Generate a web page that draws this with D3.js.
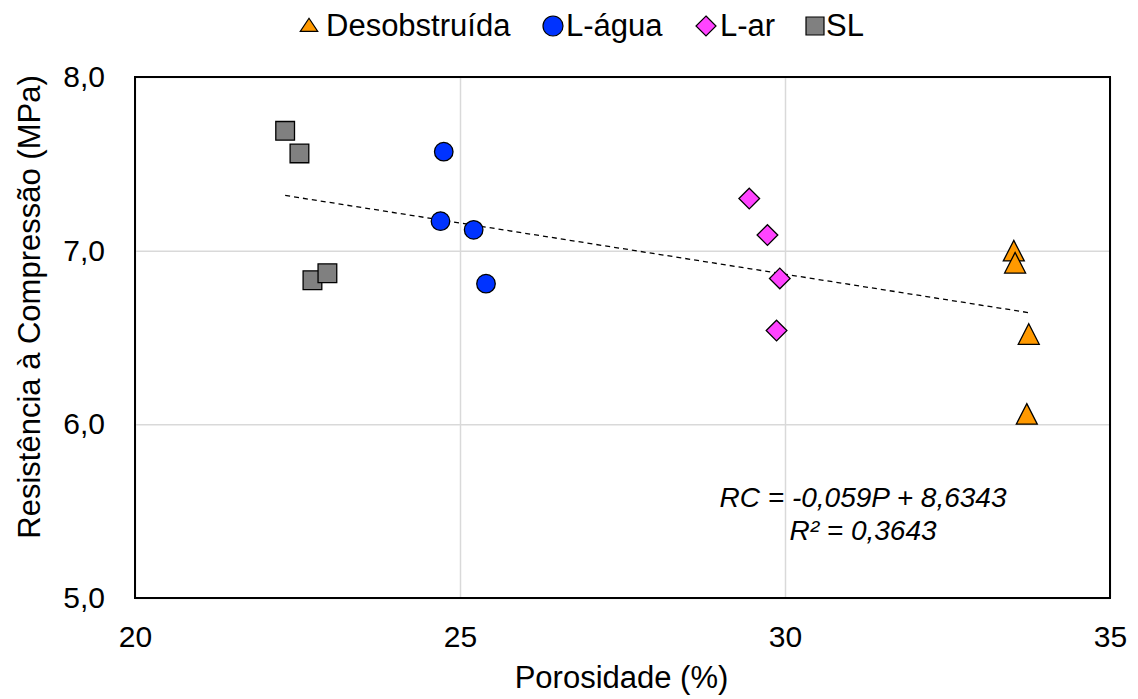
<!DOCTYPE html>
<html>
<head>
<meta charset="utf-8">
<script src="https://cdn.jsdelivr.net/npm/d3@7"></script>
<style>
  body { margin: 0; background: #fff; }
  text { font-family: "Liberation Sans", Arial, sans-serif; }
</style>
</head>
<body>
<div id="chart"></div>
<script>
// series values (porosidade %, resistencia MPa)
var desobstruidaX = [33.52, 33.54, 33.75, 33.72];
var desobstruidaY = [7.00, 6.93, 6.52, 6.06];
var laguaX = [24.75, 24.70, 25.21, 25.40];
var laguaY = [7.57, 7.17, 7.12, 6.81];
var larX = [29.45, 29.73, 29.92, 29.87];
var larY = [7.30, 7.09, 6.84, 6.54];
var slX = [22.31, 22.53, 22.73, 22.96];
var slY = [7.69, 7.56, 6.83, 6.87];

var seriesNames = ["Desobstruída", "L-água", "L-ar", "SL"];
var xTicks = [20, 25, 30, 35];
var yTicks = [5, 6, 7, 8];
var trendSlope = -0.059, trendIntercept = 8.6343;
var equationLines = ["RC = -0,059P + 8,6343", "R² = 0,3643"];

//margin convention
var width = 1138, height = 699,
    margin = {top: 77, right: 28, bottom: 101, left: 135},
    plotW = width - margin.left - margin.right,
    plotH = height - margin.top - margin.bottom;

var svg = d3.select('#chart').append('svg')
    .attr('width', width)
    .attr('height', height);

var plot = svg.append('g')
    .attr('transform', 'translate(' + margin.left + ',' + margin.top + ')');

var xScale = d3.scaleLinear().domain([20, 35]).range([0, plotW]);
var yScale = d3.scaleLinear().domain([5, 8]).range([plotH, 0]);

var fmt = function(d) { return d3.format('.1f')(d).replace('.', ','); };

//gridlines
plot.append('g')
    .call(d3.axisBottom(xScale).tickValues(xTicks).tickSize(plotH).tickFormat(''))
    .call(function(g) { g.select('.domain').remove(); })
    .selectAll('line').attr('stroke', '#d9d9d9').attr('stroke-width', 1.5);
plot.append('g')
    .call(d3.axisLeft(yScale).tickValues(yTicks).tickSize(-plotW).tickFormat(''))
    .call(function(g) { g.select('.domain').remove(); })
    .selectAll('line').attr('stroke', '#d9d9d9').attr('stroke-width', 1.5);

//axis labels
var xAxis = plot.append('g')
    .attr('transform', 'translate(0,' + plotH + ')')
    .call(d3.axisBottom(xScale).tickValues(xTicks).tickSize(0).tickPadding(28).tickFormat(d3.format('d')));
xAxis.select('.domain').remove();
xAxis.selectAll('text').attr('font-size', 30).attr('fill', '#000')
    .style('font-family', '"Liberation Sans", Arial, sans-serif');

var yAxis = plot.append('g')
    .call(d3.axisLeft(yScale).tickValues(yTicks).tickSize(0).tickPadding(30).tickFormat(fmt));
yAxis.select('.domain').remove();
yAxis.selectAll('text').attr('font-size', 30).attr('fill', '#000')
    .style('font-family', '"Liberation Sans", Arial, sans-serif');

//plot border
plot.append('rect')
    .attr('width', plotW).attr('height', plotH)
    .attr('fill', 'none').attr('stroke', '#000').attr('stroke-width', 2);

//trendline over all points
var allX = desobstruidaX.concat(laguaX, larX, slX);
var tx = d3.extent(allX);
plot.append('line')
    .attr('x1', xScale(tx[0])).attr('y1', yScale(trendSlope * tx[0] + trendIntercept))
    .attr('x2', xScale(tx[1])).attr('y2', yScale(trendSlope * tx[1] + trendIntercept))
    .attr('stroke', '#000').attr('stroke-width', 1.3).attr('stroke-dasharray', '5,4');

//markers
var series = [
  {name: seriesNames[0], xs: desobstruidaX, ys: desobstruidaY, sym: d3.symbolTriangle, size: 191, color: '#ff9900', extra: ' translate(0,3.4) scale(1,1.13)'},
  {name: seriesNames[1], xs: laguaX, ys: laguaY, sym: d3.symbolCircle, size: 270, color: '#0033ff', extra: ''},
  {name: seriesNames[2], xs: larX, ys: larY, sym: d3.symbolSquare, size: 214, color: '#ff44ff', extra: ' rotate(45)'},
  {name: seriesNames[3], xs: slX, ys: slY, sym: d3.symbolSquare, size: 350, color: '#808080', extra: ''}
];

series.forEach(function(s) {
  var pts = s.xs.map(function(x, i) { return {x: x, y: s.ys[i]}; });
  plot.selectAll(null).data(pts)
    .enter().append('path')
      .attr('d', d3.symbol().type(s.sym).size(s.size))
      .attr('transform', function(d) {
        return 'translate(' + xScale(d.x) + ',' + yScale(d.y) + ')' + s.extra;
      })
      .attr('fill', s.color)
      .attr('stroke', '#000')
      .attr('stroke-width', 1.3)
      .attr('vector-effect', 'non-scaling-stroke');
});

//equation
var eqX = 728;
var eq = plot.append('text')
    .attr('x', eqX).attr('y', 430)
    .attr('text-anchor', 'middle')
    .attr('font-size', 28).attr('font-style', 'italic');
eq.append('tspan').attr('x', eqX).attr('dy', 0).text(equationLines[0]);
eq.append('tspan').attr('x', eqX).attr('dy', 33).text(equationLines[1]);

//axis titles
svg.append('text')
    .attr('x', margin.left + plotW / 2 - 1).attr('y', 688)
    .attr('text-anchor', 'middle').attr('font-size', 31)
    .text('Porosidade (%)');
svg.append('text')
    .attr('transform', 'translate(40,307) rotate(-90)')
    .attr('text-anchor', 'middle').attr('font-size', 31)
    .text('Resistência à Compressão (MPa)');

//legend
var legendMarkX = [309, 553, 706, 815];
var legendTextX = [326, 566, 720, 826];
var legendSizes = [100, 314, 200, 324];
var legendExtra = [' translate(0,1) scale(1.15,1)', '', ' rotate(45)', ''];
series.forEach(function(s, i) {
  svg.append('path')
    .attr('d', d3.symbol().type(s.sym).size(legendSizes[i]))
    .attr('transform', 'translate(' + legendMarkX[i] + ',26)' + legendExtra[i])
    .attr('fill', s.color).attr('stroke', '#000').attr('stroke-width', 1.2)
    .attr('vector-effect', 'non-scaling-stroke');
  svg.append('text')
    .attr('x', legendTextX[i]).attr('y', 36)
    .attr('font-size', 31)
    .text(s.name);
});
</script>
</body>
</html>
